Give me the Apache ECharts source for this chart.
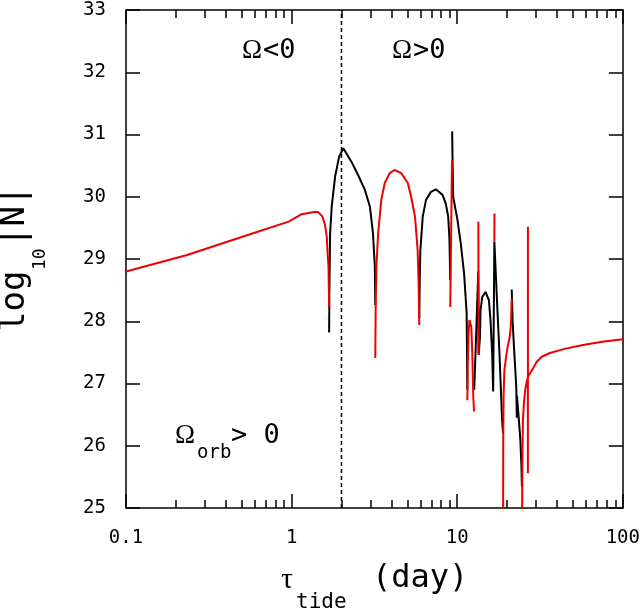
<!DOCTYPE html>
<html>
<head>
<meta charset="utf-8">
<script src="https://cdn.jsdelivr.net/npm/echarts@6/dist/echarts.min.js"></script>
<style>
html,body{margin:0;padding:0;background:#fff;}
#chart{width:643px;height:611px;}
</style>
</head>
<body>
<div id="chart"></div>
<script>
// ---- data: [tau (day), log10|N|] ----
// red = one sign of N, black = the other sign
const red1 = [[0.1,28.80],[0.231,29.06],[0.579,29.41],[0.96,29.60],[1.15,29.72],[1.39,29.76],[1.45,29.75],[1.536,29.68],[1.59,29.55],[1.63,29.36],[1.65,29.09],[1.67,28.88],[1.685,28.23]];
const black1 = [[1.685,27.82],[1.69,28.45],[1.70,29.0],[1.708,29.41],[1.746,29.84],[1.83,30.32],[1.934,30.64],[2.052,30.78],[2.30,30.56],[2.52,30.35],[2.77,30.11],[2.97,29.84],[3.10,29.41],[3.18,28.88],[3.20,28.26]];
const red2 = [[3.20,27.41],[3.22,28.3],[3.25,28.88],[3.33,29.41],[3.48,29.95],[3.65,30.22],[3.91,30.38],[4.19,30.43],[4.59,30.38],[5.03,30.22],[5.27,30.0],[5.56,29.68],[5.77,29.14],[5.86,28.5],[5.90,27.94]];
const black2 = [[5.90,28.05],[5.94,28.7],[5.99,29.14],[6.19,29.68],[6.48,29.95],[6.94,30.08],[7.43,30.12],[8.15,30.03],[8.53,29.89],[8.82,29.68],[8.98,29.31],[9.07,28.66]];
const red3 = [[9.08,28.23],[9.30,30.59]];
const black3 = [[9.32,31.05],[9.38,30.5],[9.45,30.0],[10.03,29.63],[10.5,29.25],[11.0,28.77],[11.4,28.13],[11.51,26.9]];
const red4 = [[11.51,26.73],[11.58,27.3],[11.7,27.8],[11.85,28.02],[11.95,28.05],[12.05,28.0],[12.16,27.91],[12.33,27.48],[12.5,26.79],[12.63,26.55]];
const black4 = [[12.66,26.9],[12.9,27.5],[13.15,28.15],[13.4,28.8],[13.47,27.46],[13.72,27.75],[13.83,28.18],[14.16,28.39],[14.82,28.47],[15.53,28.34],[15.88,28.02],[16.26,27.48],[16.48,26.87],[16.76,29.28],[17.41,28.29],[18.0,27.47],[18.66,26.41],[18.92,26.2]];
const red5 = [[13.42,29.6],[13.45,27.46]];
const red6 = [[16.76,29.28],[16.78,29.73]];
const red7 = [[18.92,24.5],[18.95,26.0],[19.05,26.8],[19.26,27.22],[20.0,27.54],[20.75,27.75],[21.1,27.95],[21.33,28.37]];
const black5 = [[21.33,28.51],[21.6,28.0],[22.0,27.6],[22.72,26.95],[22.9,26.45],[22.95,26.8],[23.82,26.25],[24.05,26.09],[24.4,25.7],[24.59,25.34]];
const red8 = [[24.59,24.5],[24.75,25.8],[24.93,26.41],[25.3,26.7],[25.73,26.9],[26.4,27.05],[26.7,27.09],[26.71,25.56],[26.72,29.52],[26.73,27.11],[26.97,27.13],[28.2,27.21],[30.2,27.35],[32.4,27.43],[36.3,27.49],[45,27.56],[57.5,27.62],[75,27.67],[100,27.71]];

const blackSegments = [black1, black2, black3, black4, black5];
const redSegments = [red1, red2, red3, red4, red5, red6, red7, red8];

// x axis: tau from 0.1 to 100 on a logarithmic scale
const xMinTau = 0.1, xMaxTau = 100;
const tickLabels = ['0.1', '1', '10', '100'];
const minorTicks = [0.2,0.3,0.4,0.5,0.6,0.7,0.8,0.9,2,3,4,5,6,7,8,9,20,30,40,50,60,70,80,90];
const yMin = 25, yMax = 33, yStep = 1;
const boundaryTau = 2; // Omega sign change

const RED = '#ee0000';
const MONO = '"DejaVu Sans Mono", monospace';
const SERIF = '"Liberation Serif", serif';

// the x axis is linear in log10(tau): build the library's data from the tau values
const lg = function (t) { return Math.log10(t); };
const toLog = function (seg) { return seg.map(function (p) { return [lg(p[0]), p[1]]; }); };
const xMin = lg(xMinTau), xMax = lg(xMaxTau);
const minorLog = minorTicks.map(lg);

const chart = echarts.init(document.getElementById('chart'));

function mkLine(show) { return {show: show, onZero: false, lineStyle: {color: '#000', width: 1.5}}; }
function mkTick(len, custom) {
  const t = {show: true, inside: true, length: len, lineStyle: {color: '#000', width: 1.5}};
  if (custom) t.customValues = custom;
  return t;
}

const series = [];
series.push({
  type: 'line', data: [[lg(boundaryTau), yMin], [lg(boundaryTau), yMax]],
  symbol: 'none', showSymbol: false, silent: true, z: 1,
  lineStyle: {color: '#000', width: 1.5, type: [4, 3]}
});
blackSegments.forEach(function (seg) {
  series.push({
    type: 'line', data: toLog(seg), symbol: 'none', showSymbol: false,
    lineStyle: {color: '#000', width: 2}, z: 2, silent: true
  });
});
redSegments.forEach(function (seg) {
  series.push({
    type: 'line', data: toLog(seg), symbol: 'none', showSymbol: false,
    lineStyle: {color: RED, width: 2}, z: 3, silent: true
  });
});

function txt(x, y, text, font, rot) {
  const el = {type: 'text', x: x, y: y,
    style: {text: text, font: font, fill: '#000', textAlign: 'left', align: 'left', textVerticalAlign: 'middle', verticalAlign: 'middle'}};
  if (rot) el.rotation = rot;
  return el;
}

const noLabel = {show: false};
const noSplit = {show: false};

chart.setOption({
  animation: false,
  backgroundColor: '#fff',
  grid: {left: 126, right: 16, top: 10, bottom: 103},
  xAxis: [
    // main bottom axis: decades
    {type: 'value', min: xMin, max: xMax, interval: 1, position: 'bottom',
     axisLine: mkLine(true), axisTick: mkTick(14), splitLine: noSplit,
     axisLabel: {color: '#000', fontSize: 19, fontFamily: MONO, margin: 21,
       formatter: function (v) { return tickLabels[Math.round(v - xMin)]; }}},
    // bottom minor ticks
    {type: 'value', min: xMin, max: xMax, interval: 3, position: 'bottom',
     axisLine: mkLine(false), axisTick: mkTick(8, minorLog), splitLine: {show: false}, axisLabel: {show: false}},
    // top axis: decades
    {type: 'value', min: xMin, max: xMax, interval: 1, position: 'top',
     axisLine: mkLine(true), axisTick: mkTick(14), splitLine: {show: false}, axisLabel: {show: false}},
    // top minor ticks
    {type: 'value', min: xMin, max: xMax, interval: 3, position: 'top',
     axisLine: mkLine(false), axisTick: mkTick(8, minorLog), splitLine: {show: false}, axisLabel: {show: false}}
  ],
  yAxis: [
    {type: 'value', min: yMin, max: yMax, interval: yStep, position: 'left',
     axisLine: mkLine(true), axisTick: mkTick(14), splitLine: {show: false},
     axisLabel: {color: '#000', fontSize: 19, fontFamily: MONO, margin: 20}},
    {type: 'value', min: yMin, max: yMax, interval: yStep, position: 'right',
     axisLine: mkLine(true), axisTick: mkTick(14), splitLine: {show: false},
     axisLabel: {show: false}}
  ],
  series: series,
  graphic: [
    // y title
    txt(15, 332, 'log', '34px ' + MONO, Math.PI / 2),
    txt(40, 270, '10', '18px ' + MONO, Math.PI / 2),
    txt(15, 247, '|N|', '34px ' + MONO, Math.PI / 2),
    // x title
    txt(281, 580, 'τ', '30px ' + SERIF),
    txt(296, 603, 'tide', '21px ' + MONO),
    txt(372, 579, '(day)', '32px ' + MONO),
    // annotations
    txt(242, 51, 'Ω', '27px ' + SERIF),
    txt(263, 51, '<0', '27px ' + MONO),
    txt(392, 51, 'Ω', '27px ' + SERIF),
    txt(413, 51, '>0', '27px ' + MONO),
    txt(175, 436, 'Ω', '27px ' + SERIF),
    txt(197, 453, 'orb', '19px ' + MONO),
    txt(231, 436, '> 0', '27px ' + MONO)
  ]
});
</script>
</body>
</html>
